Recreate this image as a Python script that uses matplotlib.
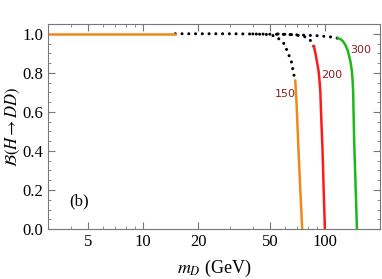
import numpy as np
import matplotlib
matplotlib.use('Agg')
import matplotlib.pyplot as plt
from matplotlib.ticker import FixedLocator, NullFormatter, MultipleLocator

plt.rcParams['font.family'] = 'Liberation Serif'
plt.rcParams['mathtext.fontset'] = 'stix'

# m_H = 150 curve (orange), solid parts and dotted bridge
x150_flat = [3, 15]
y150_flat = [1.0, 1.0]
x150_dot = [40, 49, 53, 56, 59.7, 62.2, 65, 66.3, 67.4, 68.4]
y150_dot = [0.999, 0.996, 0.988, 0.972, 0.947, 0.904, 0.862, 0.819, 0.785, 0.76]
x150 = [68.4, 69.5, 71.3, 73.0, 74.7]
y150 = [0.76, 0.65, 0.40, 0.19, 0.0]

# m_H = 200 curve (red)
x200_dot = [55, 68, 77, 81, 83.6, 86.5]
y200_dot = [0.999, 0.995, 0.985, 0.975, 0.962, 0.936]
x200 = [86.5, 88.3, 89.9, 91.9, 93.0, 93.9, 95.2, 96.6, 98.0, 99.5]
y200 = [0.936, 0.90, 0.860, 0.809, 0.758, 0.707, 0.55, 0.402, 0.20, 0.0]

# m_H = 300 curve (green)
x300_dot = [15, 30, 60, 90, 105, 117.3]
y300_dot = [1.0, 1.0, 0.997, 0.99, 0.985, 0.977]
x300 = [117.3, 121, 125, 129, 133.2, 137.3, 140.0, 141.3, 142.2, 144.1, 146.7, 149.3]
y300 = [0.977, 0.973, 0.962, 0.942, 0.911, 0.86, 0.809, 0.758, 0.707, 0.45, 0.22, 0.0]

labels = ['150', '200', '300']

orange = '#ee8a1c'
red = '#ff1a1a'
green = '#1cb81c'
lab_col = '#8b2020'

fig = plt.figure(figsize=(3.82, 2.79), dpi=100)
ax = fig.add_axes([0.1257, 0.179, 0.8693, 0.735])

dot = dict(color='black', linestyle=(0, (0.01, 2.2)), linewidth=2.2,
           dash_capstyle='round')
ax.plot(x300_dot, y300_dot, **dot)
ax.plot(x150_dot, y150_dot, **dot)
ax.plot(x200_dot, y200_dot, **dot)

ax.plot(x150_flat, y150_flat, color=orange, lw=1.8)
ax.plot(x150, y150, color=orange, lw=1.8)
ax.plot(x200, y200, color=red, lw=1.8)
ax.plot(x300, y300, color=green, lw=1.8)

lab_kw = dict(color=lab_col, fontsize=8, family='DejaVu Sans', ha='center', va='center')
ax.text(60.5, 0.69, labels[0], **lab_kw)
ax.text(108, 0.79, labels[1], **lab_kw)
ax.text(156, 0.915, labels[2], **lab_kw)

ax.text(4.45, 0.14, '(b)', fontsize=12, ha='center', va='center')

ax.set_xscale('log')
ax.set_xlim(3, 200)
ax.set_ylim(0, 1.05)
ax.xaxis.set_major_locator(FixedLocator([5, 10, 20, 50, 100]))
ax.xaxis.set_minor_locator(FixedLocator([3, 4, 6, 7, 8, 9, 30, 40, 60, 70, 80, 90, 200]))
ax.xaxis.set_minor_formatter(NullFormatter())
ax.set_xticklabels(['5', '10', '20', '50', '100'])
ax.yaxis.set_major_locator(MultipleLocator(0.2))
ax.yaxis.set_minor_locator(MultipleLocator(0.05))
ax.set_yticklabels([f'{v:.1f}' for v in ax.get_yticks()])

ax.tick_params(which='both', direction='in', top=True, right=True,
               colors='#777777', labelcolor='black', labelsize=12)
ax.tick_params(which='major', length=5, width=0.8)
ax.tick_params(which='minor', length=2.5, width=0.6)
for s in ax.spines.values():
    s.set_color('#777777')
    s.set_linewidth(0.8)

ax.set_xlabel(r'$m_D$ (GeV)', fontsize=13, labelpad=6)
ax.set_ylabel(r'$\mathcal{B}(H\to DD)$', fontsize=12)
ax.yaxis.set_label_coords(-0.078, 0.5)

fig.savefig('out.png', dpi=100)
